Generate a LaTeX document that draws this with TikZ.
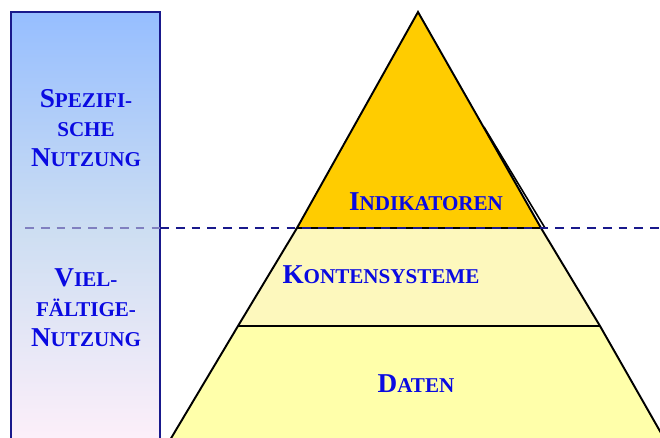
\documentclass[tikz,border=0pt]{standalone}
\usepackage{fontspec}
\setmainfont{Liberation Serif}
\definecolor{navy}{RGB}{25,25,140}
\definecolor{txtblue}{RGB}{10,10,225}
\definecolor{topblue}{RGB}{150,190,255}
\definecolor{midblue}{RGB}{205,222,242}
\definecolor{botpink}{RGB}{255,240,250}
\definecolor{gold}{RGB}{255,204,0}
\definecolor{cream}{RGB}{253,248,189}
\definecolor{paleyellow}{RGB}{255,255,170}
\newcommand\kc[2]{{\fontsize{15.5}{17}\selectfont #1}{\fontsize{12}{17}\selectfont #2}}
\tikzset{
  lbl/.style={font=\bfseries\fontsize{12}{17}\selectfont, text=txtblue, align=center, inner sep=0pt},
  layer/.style={draw=black, line width=1.1pt, line join=miter},
  sep/.style={dashed, dash pattern=on 5pt off 4pt, line width=0.8pt}
}
\begin{document}
\begin{tikzpicture}[x=0.02cm,y=-0.02cm]
\useasboundingbox (0,0) rectangle (660,437);
\clip (0,0) rectangle (660,437);
% left box
\shade[top color=topblue, bottom color=botpink, middle color=midblue] (11,12) rectangle (160,450);
\draw[navy, line width=1.2pt] (11,12) rectangle (160,450);
% pyramid coordinates
\coordinate (apex) at (418,12);
\coordinate (l1) at (297,228); \coordinate (r1) at (541,228);
\coordinate (l2) at (238,326); \coordinate (r2) at (600,326);
\coordinate (l3) at (170,440); \coordinate (r3) at (665,440);
% layers
\fill[paleyellow] (l2) -- (r2) -- (r3) -- (l3) -- cycle;
\fill[cream] (l1) -- (r1) -- (r2) -- (l2) -- cycle;
\draw[layer] (l1) -- (l2) -- (l3);
\draw[layer] (r1) -- (r2) -- (r3);
\draw[layer] (l2) -- (r2);
\draw[layer, line width=0.9pt] (484,127) -- (545,228);
\draw[layer, fill=gold] (apex) -- (r1) -- (l1) -- cycle;
% dashed separator
\coordinate (d0) at (25,228); \coordinate (d1) at (160,228); \coordinate (d2) at (660,228);
\draw[sep, draw=navy!55!white] (d0) -- (d1);
\draw[sep, draw=navy] (d1) -- (d2);
% labels
\node[lbl] (spez) at (86,128) {\kc{S}{PEZIFI-}\\\kc{}{SCHE}\\\kc{N}{UTZUNG}};
\node[lbl] (viel) at (86,308) {\kc{V}{IEL-}\\\kc{}{FÄLTIGE-}\\\kc{N}{UTZUNG}};
\node[lbl] (ind) at (426,202) {\kc{I}{NDIKATOREN}};
\node[lbl] (kon) at (381,275) {\kc{K}{ONTENSYSTEME}};
\node[lbl] (dat) at (416,384) {\kc{D}{ATEN}};
\end{tikzpicture}
\end{document}
